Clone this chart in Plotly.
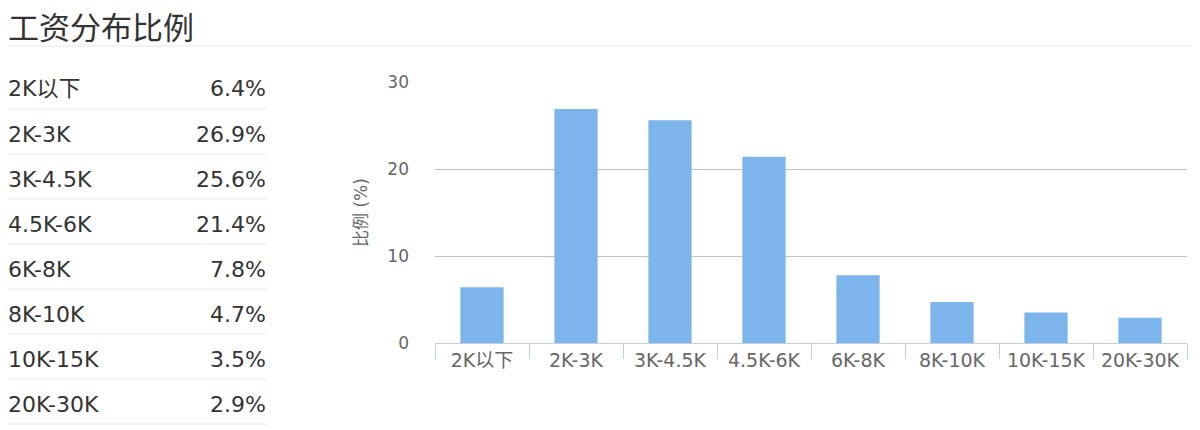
import plotly.graph_objects as go

# salary distribution data
categories = ["2K以下", "2K-3K", "3K-4.5K", "4.5K-6K", "6K-8K", "8K-10K", "10K-15K", "20K-30K"]
shares = [6.4, 26.9, 25.6, 21.4, 7.8, 4.7, 3.5, 2.9]
y_ticks = [0, 10, 20, 30]

W, H = 1200, 430
OFF = 8  # page body margin
FONT = "DejaVu Sans, Noto Sans CJK SC, sans-serif"


def px_x(x):
    return (x - OFF) / W


def px_y(y):
    return 1 - (y - OFF) / H


fig = go.Figure()
fig.add_trace(go.Bar(
    x=categories,
    y=shares,
    marker=dict(color="#7cb5ec", line=dict(width=0)),
    hoverinfo="x+y",
))

annotations = [
    dict(text="工资分布比例", x=px_x(6), y=px_y(28), xref="paper", yref="paper",
         xanchor="left", yanchor="middle", showarrow=False,
         font=dict(family=FONT, size=31, color="#333")),
]
shapes = [
    dict(type="line", xref="paper", yref="paper", x0=px_x(8), x1=1, y0=px_y(46), y1=px_y(46),
         line=dict(color="#e6e6e6", width=1)),
]

# left-hand table
row_h = 45
for i, (cat, val) in enumerate(zip(categories, shares)):
    yc = 89 + i * row_h
    annotations.append(dict(text=cat, x=px_x(6), y=px_y(yc), xref="paper", yref="paper",
                            xanchor="left", yanchor="middle", showarrow=False,
                            font=dict(family=FONT, size=22, color="#333")))
    annotations.append(dict(text=f"{val}%", x=px_x(268), y=px_y(yc), xref="paper", yref="paper",
                            xanchor="right", yanchor="middle", showarrow=False,
                            font=dict(family=FONT, size=22, color="#333")))
    shapes.append(dict(type="line", xref="paper", yref="paper", x0=px_x(8), x1=px_x(267),
                       y0=px_y(yc + 20), y1=px_y(yc + 20),
                       line=dict(color="#e8e8e8", width=1)))

fig.update_layout(
    width=W, height=H,
    margin=dict(l=0, r=0, t=0, b=0),
    plot_bgcolor="white", paper_bgcolor="white",
    showlegend=False,
    bargap=0.54,
    annotations=annotations,
    shapes=shapes,
    font=dict(family=FONT, color="#666"),
    xaxis=dict(
        domain=[px_x(435), px_x(1187)],
        type="category",
        automargin=False,
        showline=True, linecolor="#c0d0e0", linewidth=1,
        ticks="outside", tickson="boundaries", ticklen=15, tickcolor="#c0d0e0",
        tickfont=dict(size=19, color="#666"),
        showgrid=False,
    ),
    yaxis=dict(
        domain=[px_y(343), px_y(82)],
        range=[0, 30],
        tickvals=y_ticks,
        automargin=False,
        showgrid=True, gridcolor="#c0c0c0", gridwidth=1,
        zeroline=False,
        tickfont=dict(size=17, color="#666"),
        ticklabelstandoff=25,
        title=dict(text="比例 (%)", font=dict(size=17, color="#666")),
    ),
)

fig.write_html("out.html")
